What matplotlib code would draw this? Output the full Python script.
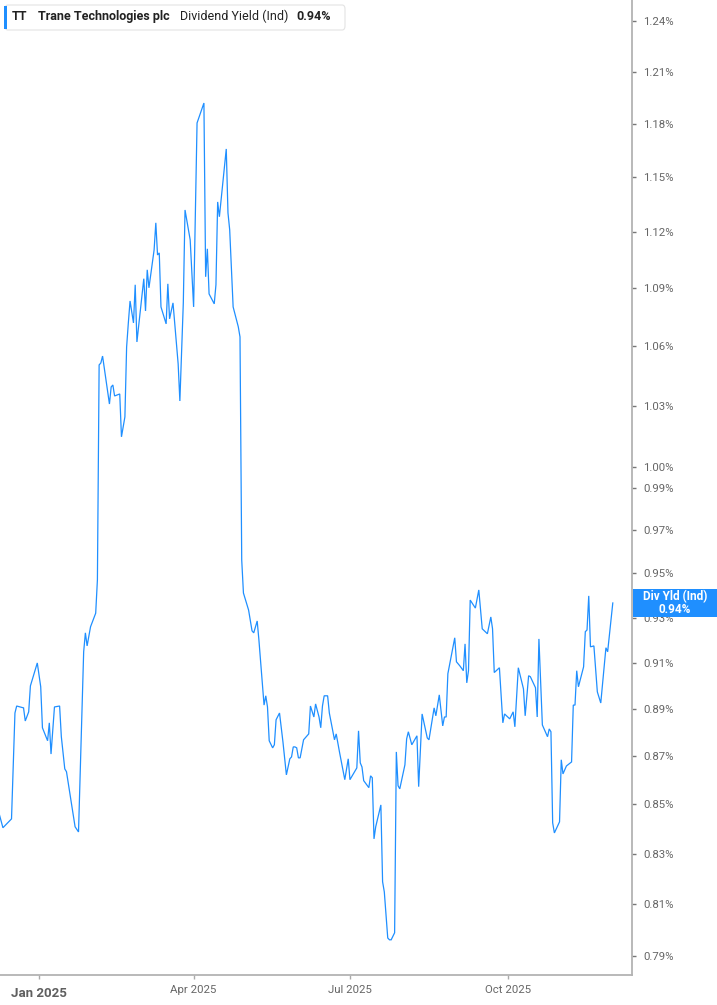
import matplotlib
matplotlib.use("Agg")
import matplotlib.pyplot as plt
import matplotlib.dates as mdates
from matplotlib.ticker import FixedLocator, NullLocator, NullFormatter
from matplotlib.patches import FancyBboxPatch, Rectangle
import pandas as pd

# ---------------- data ----------------
dates = [
    "2024-12-09", "2024-12-11", "2024-12-16", "2024-12-18", "2024-12-19", "2024-12-23", "2024-12-24",
    "2024-12-26", "2024-12-27", "2024-12-31", "2025-01-02", "2025-01-03", "2025-01-06", "2025-01-07",
    "2025-01-08", "2025-01-10", "2025-01-13", "2025-01-14", "2025-01-16", "2025-01-17", "2025-01-22",
    "2025-01-24", "2025-01-27", "2025-01-28", "2025-01-29", "2025-01-31", "2025-02-03", "2025-02-04",
    "2025-02-05", "2025-02-06", "2025-02-07", "2025-02-09", "2025-02-11", "2025-02-12", "2025-02-13",
    "2025-02-14", "2025-02-17", "2025-02-18", "2025-02-20", "2025-02-21", "2025-02-22", "2025-02-23",
    "2025-02-25", "2025-02-26", "2025-02-27", "2025-03-01", "2025-03-03", "2025-03-04", "2025-03-05",
    "2025-03-06", "2025-03-09", "2025-03-10", "2025-03-11", "2025-03-12", "2025-03-13", "2025-03-16",
    "2025-03-17", "2025-03-18", "2025-03-20", "2025-03-23", "2025-03-24", "2025-03-26", "2025-03-27",
    "2025-03-30", "2025-04-01", "2025-04-03", "2025-04-07", "2025-04-08", "2025-04-09", "2025-04-10",
    "2025-04-13", "2025-04-14", "2025-04-15", "2025-04-16", "2025-04-20", "2025-04-21", "2025-04-22",
    "2025-04-24", "2025-04-27", "2025-04-28", "2025-04-29", "2025-04-30", "2025-05-03", "2025-05-05",
    "2025-05-06", "2025-05-08", "2025-05-09", "2025-05-12", "2025-05-13", "2025-05-14", "2025-05-15",
    "2025-05-17", "2025-05-18", "2025-05-19", "2025-05-21", "2025-05-23", "2025-05-25", "2025-05-27",
    "2025-05-28", "2025-05-29", "2025-05-30", "2025-05-31", "2025-06-01", "2025-06-02", "2025-06-04",
    "2025-06-07", "2025-06-08", "2025-06-10", "2025-06-11", "2025-06-13", "2025-06-14", "2025-06-15",
    "2025-06-16", "2025-06-18", "2025-06-19", "2025-06-22", "2025-06-23", "2025-06-25", "2025-06-28",
    "2025-06-30", "2025-07-01", "2025-07-05", "2025-07-06", "2025-07-07", "2025-07-08", "2025-07-09",
    "2025-07-12", "2025-07-13", "2025-07-14", "2025-07-15", "2025-07-16", "2025-07-19", "2025-07-20",
    "2025-07-21", "2025-07-23", "2025-07-24", "2025-07-25", "2025-07-27", "2025-07-28", "2025-07-29",
    "2025-07-30", "2025-08-02", "2025-08-03", "2025-08-04", "2025-08-06", "2025-08-09", "2025-08-10",
    "2025-08-12", "2025-08-15", "2025-08-16", "2025-08-19", "2025-08-20", "2025-08-22", "2025-08-24",
    "2025-08-25", "2025-08-26", "2025-08-27", "2025-08-29", "2025-08-31", "2025-09-01", "2025-09-03",
    "2025-09-05", "2025-09-06", "2025-09-07", "2025-09-08", "2025-09-09", "2025-09-12", "2025-09-14",
    "2025-09-16", "2025-09-19", "2025-09-21", "2025-09-22", "2025-09-23", "2025-09-26", "2025-09-28",
    "2025-09-29", "2025-10-02", "2025-10-04", "2025-10-05", "2025-10-07", "2025-10-10", "2025-10-11",
    "2025-10-13", "2025-10-14", "2025-10-17", "2025-10-18", "2025-10-19", "2025-10-21", "2025-10-24",
    "2025-10-25", "2025-10-26", "2025-10-27", "2025-10-28", "2025-10-31", "2025-11-01", "2025-11-02",
    "2025-11-04", "2025-11-07", "2025-11-08", "2025-11-09", "2025-11-10", "2025-11-11", "2025-11-14",
    "2025-11-15", "2025-11-16", "2025-11-17", "2025-11-18", "2025-11-20", "2025-11-22", "2025-11-24",
    "2025-11-27", "2025-11-28", "2025-12-01",
]

div_yield = [
    0.8456, 0.8404, 0.8440, 0.8882, 0.8912, 0.8904, 0.8848,
    0.8887, 0.8999, 0.9099, 0.8995, 0.8819, 0.8764, 0.8840,
    0.8708, 0.8908, 0.8912, 0.8781, 0.8646, 0.8634, 0.8408,
    0.8387, 0.9148, 0.9232, 0.9174, 0.9259, 0.9320, 0.9471,
    1.0505, 1.0515, 1.0550, 1.0430, 1.0309, 1.0394, 1.0404,
    1.0349, 1.0359, 1.0147, 1.0245, 1.0596, 1.0720, 1.0834,
    1.0720, 1.0919, 1.0622, 1.0787, 1.0951, 1.0782, 1.0998,
    1.0903, 1.1104, 1.1250, 1.1077, 1.1088, 1.0803, 1.0715,
    1.0924, 1.0741, 1.0824, 1.0510, 1.0324, 1.0824, 1.1320,
    1.1158, 1.0803, 1.1805, 1.1919, 1.0961, 1.1110, 1.0871,
    1.0819, 1.0919, 1.1364, 1.1283, 1.1658, 1.1304, 1.1212,
    1.0803, 1.0700, 1.0648, 0.9562, 0.9411, 0.9334, 0.9241,
    0.9232, 0.9285, 0.9201, 0.8916, 0.8956, 0.8908, 0.8764,
    0.8734, 0.8747, 0.8853, 0.8882, 0.8759, 0.8621, 0.8688,
    0.8696, 0.8738, 0.8738, 0.8734, 0.8692, 0.8692, 0.8768,
    0.8793, 0.8912, 0.8865, 0.8921, 0.8865, 0.8819, 0.8912,
    0.8956, 0.8956, 0.8882, 0.8768, 0.8793, 0.8713, 0.8601,
    0.8688, 0.8601, 0.8650, 0.8806, 0.8671, 0.8654, 0.8597,
    0.8568, 0.8617, 0.8609, 0.8359, 0.8408, 0.8497, 0.8188,
    0.8148, 0.7969, 0.7962, 0.7962, 0.7989, 0.8717, 0.8576,
    0.8563, 0.8663, 0.8772, 0.8802, 0.8747, 0.8785, 0.8572,
    0.8878, 0.8776, 0.8768, 0.8904, 0.8870, 0.8960, 0.8827,
    0.8865, 0.8865, 0.9052, 0.9130, 0.9210, 0.9104, 0.9086,
    0.9065, 0.9183, 0.9012, 0.9065, 0.9379, 0.9343, 0.9425,
    0.9250, 0.9228, 0.9303, 0.9250, 0.9057, 0.9078, 0.8840,
    0.8878, 0.8857, 0.8887, 0.8823, 0.9078, 0.8986, 0.8870,
    0.9043, 0.9039, 0.8991, 0.8865, 0.9205, 0.8831, 0.8781,
    0.8814, 0.8802, 0.8424, 0.8383, 0.8428, 0.8684, 0.8625,
    0.8658, 0.8675, 0.8916, 0.8916, 0.9065, 0.8995, 0.9082,
    0.9237, 0.9245, 0.9398, 0.9170, 0.9174, 0.8973, 0.8925,
    0.9166, 0.9148, 0.9366,
]

y_ticks = [0.79, 0.81, 0.83, 0.85, 0.87, 0.89, 0.91, 0.93, 0.95, 0.97, 0.99,
           1.00, 1.03, 1.06, 1.09, 1.12, 1.15, 1.18, 1.21, 1.24]
x_tick_dates = ["2025-01-01", "2025-04-01", "2025-07-01", "2025-10-01"]
x_tick_labels = ["Jan 2025", "Apr 2025", "Jul 2025", "Oct 2025"]

ticker = "TT"
company = "Trane Technologies plc"
metric = "Dividend Yield (Ind)"
last_label = "0.94%"
tag_label = "Div Yld (Ind)"

# ---------------- figure ----------------
W, H = 717, 1005
fig = plt.figure(figsize=(W / 100, H / 100), dpi=100)
fig.patch.set_facecolor("white")
plt.rcParams["font.family"] = ["Roboto", "DejaVu Sans"]

ax_left, ax_right, ax_bottom, ax_top = 0, 632, 975, 0
ax = fig.add_axes([ax_left / W, 1 - ax_bottom / H, (ax_right - ax_left) / W, (ax_bottom - ax_top) / H])

line_color = "#1f8fff"
x = pd.to_datetime(dates)
ax.plot(x, div_yield, color=line_color, lw=0.9, solid_joinstyle="miter")

ax.set_yscale("log")
ax.set_ylim(0.7828, 1.2526)
ax.yaxis.set_major_locator(FixedLocator(y_ticks))
ax.yaxis.set_minor_locator(NullLocator())
ax.yaxis.set_minor_formatter(NullFormatter())
ax.set_yticklabels([f"{v:.2f}%" for v in y_ticks])
ax.yaxis.tick_right()
ax.tick_params(axis="y", which="major", direction="out", length=3, width=1,
               color="#777777", labelsize=8.2, labelcolor="#666666", pad=5)

jan1 = mdates.date2num(pd.Timestamp("2025-01-01"))
px_per_day = (508 - 39) / 273.0
ax.set_xlim(jan1 - 39 / px_per_day, jan1 + (632 - 39) / px_per_day)
ax.set_xticks(pd.to_datetime(x_tick_dates))
ax.set_xticklabels(x_tick_labels)
ax.tick_params(axis="x", which="major", direction="out", length=3, width=1,
               color="#aaaaaa", labelsize=8.2, labelcolor="#666666", pad=4.3)
ax.xaxis.set_minor_locator(NullLocator())

ticks = ax.xaxis.get_major_ticks()
ticks[0].set_pad(5.4)
lab0 = ax.get_xticklabels()[0]
lab0.set_fontweight("bold")
lab0.set_fontsize(9.5)
lab0.set_color("#5f5f5f")

for s in ["top", "left"]:
    ax.spines[s].set_visible(False)
for s in ["right", "bottom"]:
    ax.spines[s].set_color("#b3b3b3")
    ax.spines[s].set_linewidth(1.3)


def fx(px):
    return px / W


def fy(py):
    return 1 - py / H


# ---------------- legend box (top-left) ----------------
box = FancyBboxPatch((fx(5), fy(30)), fx(340), 25 / H,
                     boxstyle="round,pad=0,rounding_size=0.004",
                     transform=fig.transFigure, facecolor="white",
                     edgecolor="#e3e3e3", lw=0.8, zorder=5)
fig.patches.append(box)
bar = Rectangle((fx(4), fy(29)), 3 / W, 23 / H, transform=fig.transFigure,
                facecolor=line_color, edgecolor="none", zorder=6)
fig.patches.append(bar)
ty = fy(16.5)
fig.text(fx(12), ty, ticker, fontsize=9, fontweight="bold", color="#222222", va="center", zorder=7)
fig.text(fx(38), ty, company, fontsize=9, fontweight="bold", color="#222222", va="center", zorder=7)
fig.text(fx(180), ty, metric, fontsize=9, color="#222222", va="center", zorder=7)
fig.text(fx(296), ty, last_label, fontsize=9, fontweight="bold", color="#222222", va="center", zorder=7)

# ---------------- last value tag (right) ----------------
tag = Rectangle((fx(633), fy(617)), (W - 633) / W, 28 / H, transform=fig.transFigure,
                facecolor=line_color, edgecolor="none", zorder=8)
fig.patches.append(tag)
fig.text(fx(675), fy(597), tag_label, fontsize=8.5, fontweight="bold", color="white",
         ha="center", va="center", zorder=9)
fig.text(fx(675), fy(609), last_label, fontsize=8.5, fontweight="bold", color="white",
         ha="center", va="center", zorder=9)

fig.savefig("out.png", dpi=100, facecolor="white")
